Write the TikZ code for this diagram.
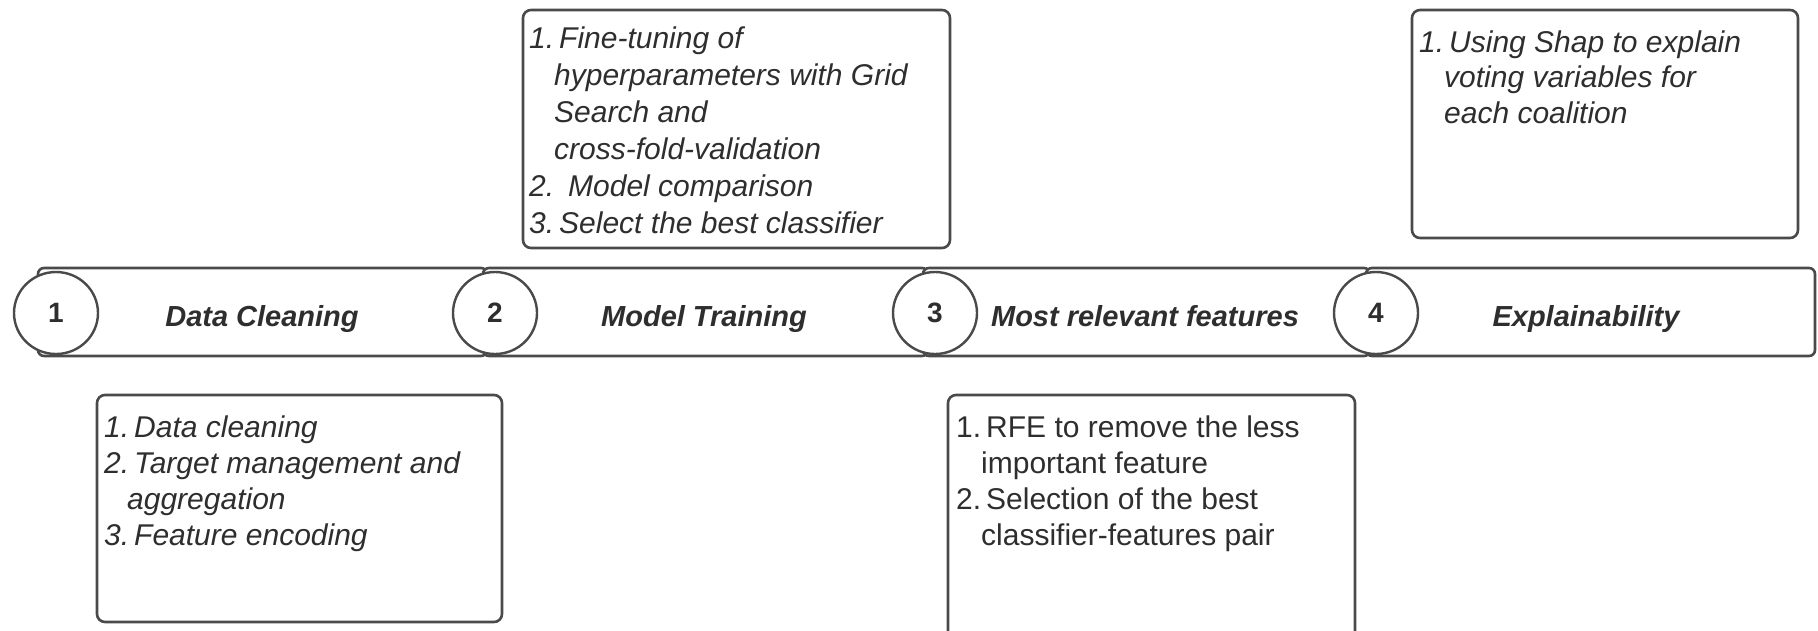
\documentclass[tikz,border=0pt]{standalone}
\usepackage{fontspec}
\setmainfont{Liberation Sans}
\usetikzlibrary{shapes.geometric}
\definecolor{edge}{HTML}{4A4A4A}
\definecolor{ink}{HTML}{2E2E2E}
\newcommand{\itemno}[1]{#1.\hspace{5pt}}
\begin{document}
\begin{tikzpicture}[x=1pt,y=-1pt,
  segment/.style={draw=edge, line width=2.6pt, fill=white, rounded corners=6pt},
  stepnum/.style={ellipse, draw=edge, line width=2.4pt, fill=white,
    minimum width=84pt, minimum height=82pt, inner sep=0pt,
    font=\fontsize{28}{30}\selectfont\bfseries, text=ink},
  phase/.style={anchor=base, inner sep=0pt, text=ink,
    font=\fontsize{29}{34}\selectfont\bfseries\itshape},
  listbox/.style={draw=edge, line width=2.6pt, rounded corners=8pt, fill=white, inner sep=0pt},
  % the base anchor of a multi-line node sits on its last line
  listtext/.style={align=left, anchor=base west, inner sep=0pt, text=ink,
    font=\fontsize{30}{36}\selectfont\itshape},
  plaintext/.style={listtext, font=\fontsize{30}{36}\selectfont\upshape}]
\useasboundingbox (0,0) rectangle (1818,630);

% timeline band, one rounded segment per phase
\draw[segment] (38,268) rectangle (487,356);
\draw[segment] (483,268) rectangle (928,356);
\draw[segment] (923,268) rectangle (1370,356);
\draw[segment] (1366,268) rectangle (1815,356);

% numbered step markers
\node[stepnum] (s1) at (56,313) {1};
\node[stepnum] (s2) at (495,313) {2};
\node[stepnum] (s3) at (935,313) {3};
\node[stepnum] (s4) at (1376,313) {4};

% phase titles
\node[phase] (p1) at (262,326) {Data Cleaning};
\node[phase] (p2) at (704,326) {Model Training};
\node[phase] (p3) at (1145,326) {Most relevant features};
\node[phase] (p4) at (1586,326) {Explainability};

% detail boxes
\node[listbox, minimum width=405pt, minimum height=227pt] (boxA) at (299.5,508.5) {};
\node[listbox, minimum width=427pt, minimum height=238pt] (boxB) at (736.5,129) {};
\node[listbox, minimum width=386pt, minimum height=228pt] (boxC) at (1605,124) {};
\node[listbox, minimum width=407pt, minimum height=265pt] (boxD) at (1151.5,527.5) {};

\node[listtext] (tA) at (104,545) {\itemno{1}Data cleaning\\
  \itemno{2}Target management and\\
  \hspace*{23pt}aggregation\\
  \itemno{3}Feature encoding};

\node[listtext, font=\fontsize{30}{37}\selectfont\itshape] (tB) at (529,233) {\itemno{1}Fine-tuning of\\
  \hspace*{25pt}hyperparameters with Grid\\
  \hspace*{25pt}Search and\\
  \hspace*{25pt}cross-fold-validation\\
  2.\hspace{14pt}Model comparison\\
  \itemno{3}Select the best classifier};

\node[listtext, font=\fontsize{30}{35.5}\selectfont\itshape] (tC) at (1419,123) {\itemno{1}Using Shap to explain\\
  \hspace*{25pt}voting variables for\\
  \hspace*{25pt}each coalition};

\node[plaintext] (tD) at (956,545) {\itemno{1}RFE to remove the less\\
  \hspace*{25pt}important feature\\
  \itemno{2}Selection of the best\\
  \hspace*{25pt}classifier-features pair};
\end{tikzpicture}
\end{document}
